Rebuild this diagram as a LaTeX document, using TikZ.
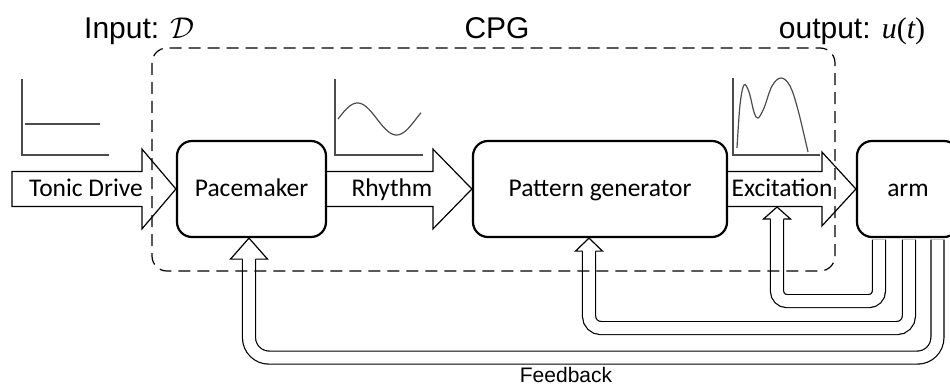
\documentclass[tikz,border=0pt]{standalone}
\usepackage{fix-cm}
\usepackage{fontspec}
\usepackage{tikz}
\usetikzlibrary{calc}
\setmainfont{Liberation Sans}
\newfontfamily\boxfont{Carlito}
\newfontfamily\timesfont{Liberation Serif}

\tikzset{
  block/.style={draw, line width=2.2pt, rounded corners=15pt, minimum height=96pt, inner sep=0pt},
  lbl/.style={font=\boxfont\fontsize{25.5}{30}\selectfont, text height=21pt, text depth=5.5pt, inner sep=0pt},
  flow/.style={draw, line width=1.2pt, line join=miter},
  fb/.style={draw, line width=1.2pt, double, double distance=11.8pt},
  fbhead/.style={draw, fill=white, line width=1.2pt, line join=miter},
  plotline/.style={black!70, line width=1.2pt},
  cpgbox/.style={dash pattern=on 12pt off 7pt, line width=1.2pt, rounded corners=15pt}
}

\begin{document}
\begin{tikzpicture}[x=1pt,y=-1pt]
  \useasboundingbox (0,0) rectangle (950,385);
  % the three blocks
  \node[block, lbl, minimum width=149pt] (pace) at (251.5,189) {Pacemaker};
  \node[block, lbl, minimum width=254pt] (pat) at (600,189) {Pattern generator};
  \node[block, lbl, minimum width=102pt] (arm) at (908,189) {arm};
  \coordinate (drive) at (12,189);
  % wide arrows between them
  \draw[flow] ($(drive)+(0,-17.5)$) -- ($(pace.west)+(-34,-17.5)$) -- ($(pace.west)+(-34,-40)$)
    -- (pace.west) -- ($(pace.west)+(-34,40)$) -- ($(pace.west)+(-34,17.5)$) -- ($(drive)+(0,17.5)$) -- cycle;
  \draw[flow] ($(pace.east)+(0,-17.5)$) -- ($(pat.west)+(-39,-17.5)$) -- ($(pat.west)+(-39,-40)$)
    -- (pat.west) -- ($(pat.west)+(-39,40)$) -- ($(pat.west)+(-39,17.5)$) -- ($(pace.east)+(0,17.5)$);
  \draw[flow] ($(pat.east)+(0,-17.5)$) -- ($(arm.west)+(-34,-17.5)$) -- ($(arm.west)+(-34,-37)$)
    -- (arm.west) -- ($(arm.west)+(-34,37)$) -- ($(arm.west)+(-34,17.5)$) -- ($(pat.east)+(0,17.5)$);
  \node[lbl] (tonic) at (86,189) {Tonic Drive};
  \node[lbl] (rhythm) at (392,189) {Rhythm};
  \node[lbl] (excit) at (782,189) {Excitation};
  % feedback from the arm
  \coordinate (excbot) at (777,207);
  \coordinate (patbot) at ($(pat.south)+(-11,0)$);
  \coordinate (pacebot) at ($(pace.south)+(-2.5,0)$);
  \draw[fb, rounded corners=10pt] ($(arm.south west)+(23,1.5)$) -- ++(0,61.5) -| ($(excbot)+(0,12)$);
  \draw[fbhead] ($(excbot)+(-6.5,12)$) -- ++(-7,0) -- (excbot) -- ($(excbot)+(13.5,12)$) -- ++(-7,0);
  \draw[fb, rounded corners=12pt] ($(arm.south west)+(53,1.5)$) -- ++(0,88.5) -| ($(patbot)+(0,13)$);
  \draw[fbhead] ($(patbot)+(-6.5,13)$) -- ++(-7,0) -- (patbot) -- ($(patbot)+(13.5,13)$) -- ++(-7,0);
  \draw[fb, rounded corners=20pt] ($(arm.south west)+(81.5,1.5)$) -- ++(0,118) -| ($(pacebot)+(0,21)$);
  \draw[fbhead] ($(pacebot)+(-6.5,21)$) -- ++(-12,0) -- (pacebot) -- ($(pacebot)+(18.5,21)$) -- ++(-12,0);
  % sketches of the signals
  \draw[plotline] (22,79) -- (22,155) -- (109,155);
  \draw[plotline] (25,124) -- (100,124);
  \draw[plotline] (335,79) -- (335,155) -- (423,155);
  \draw[plotline, domain=0:83, samples=60] plot ({338+\x}, {119-16*sin(4.6154*\x)});
  \draw[plotline] (733,78) -- (733,155) -- (820,155);
  \draw[plotline] plot[smooth, tension=0.6] coordinates {(737,148) (740,105) (744,85) (749,92)
    (754,112) (758,118) (764,108) (772,86) (781,78) (790,86) (798,110) (808,152)};
  % the CPG frame
  \draw[cpgbox] (152,48) rectangle (835,271);
  \node[anchor=base west, font=\fontsize{30}{34}\selectfont, inner sep=0pt] (input) at (84,39) {Input: $\mathcal{D}$};
  \node[anchor=base, font=\fontsize{30}{34}\selectfont, inner sep=0pt] (cpg) at (497,39) {CPG};
  \node[anchor=base, font=\fontsize{30}{34}\selectfont, inner sep=0pt] (output) at (852,39)
    {output: {\timesfont\itshape u\upshape(\itshape t\upshape)}};
  \node[anchor=base, font=\fontsize{21}{24}\selectfont, inner sep=0pt] (fbtxt) at (566,382) {Feedback};
\end{tikzpicture}
\end{document}
